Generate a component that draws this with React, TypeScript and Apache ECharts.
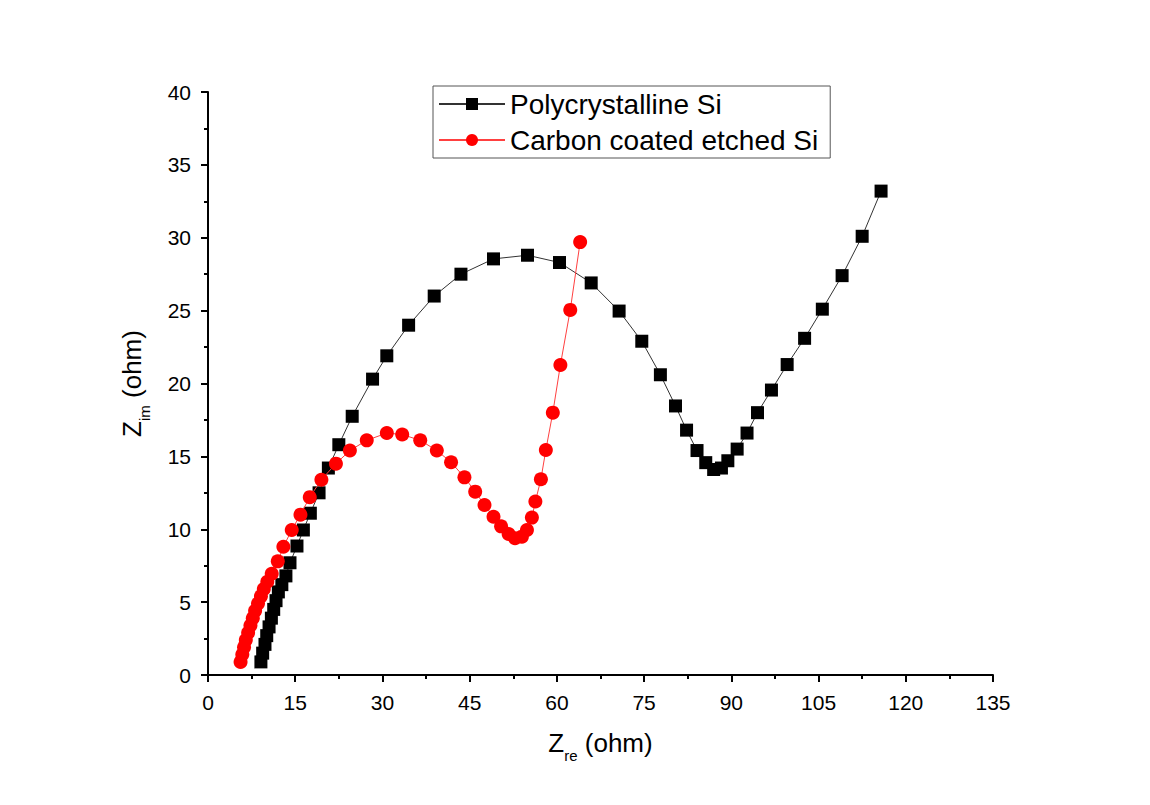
import React, { useEffect, useRef } from "react";
import * as echarts from "echarts";

const seriesNames = ["Polycrystalline Si", "Carbon coated etched Si"];

const polySi: number[][] = [
  [9.1, 0.9], [9.4, 1.5], [9.8, 2.1], [10.1, 2.7], [10.5, 3.3], [10.9, 3.9],
  [11.3, 4.5], [11.7, 5.1], [12.1, 5.7], [12.7, 6.2], [13.4, 6.8], [14.1, 7.7],
  [15.3, 8.85], [16.4, 9.95], [17.6, 11.1], [19.1, 12.5], [20.7, 14.2], [22.5, 15.8],
  [24.8, 17.75], [28.3, 20.3], [30.75, 21.9], [34.5, 24.0], [38.9, 26.0], [43.5, 27.5],
  [49.1, 28.55], [54.95, 28.8], [60.45, 28.3], [65.9, 26.9], [70.7, 24.97], [74.6, 22.9],
  [77.8, 20.6], [80.4, 18.46], [82.3, 16.8], [84.1, 15.4], [85.6, 14.57], [86.96, 14.1],
  [88.3, 14.2], [89.4, 14.7], [91.0, 15.5], [92.7, 16.6], [94.5, 18.0], [96.9, 19.55],
  [99.6, 21.3], [102.6, 23.1], [105.65, 25.1], [109.05, 27.4], [112.5, 30.1], [115.75, 33.2],
];

const carbonSi: number[][] = [
  [5.6, 0.9], [5.9, 1.4], [6.2, 1.9], [6.5, 2.4], [6.9, 2.9], [7.3, 3.4],
  [7.7, 3.9], [8.1, 4.4], [8.6, 4.9], [9.1, 5.4], [9.6, 5.9], [10.2, 6.4],
  [10.96, 6.95], [12.0, 7.8], [12.96, 8.8], [14.4, 9.95], [15.9, 11.0], [17.5, 12.2],
  [19.5, 13.4], [22.0, 14.5], [24.4, 15.4], [27.3, 16.1], [30.75, 16.6], [33.4, 16.5],
  [36.5, 16.1], [39.35, 15.4], [41.8, 14.6], [44.1, 13.56], [45.95, 12.58], [47.55, 11.66],
  [49.1, 10.86], [50.4, 10.2], [51.7, 9.67], [52.8, 9.38], [53.98, 9.49], [54.85, 9.95],
  [55.7, 10.8], [56.3, 11.9], [57.25, 13.43], [58.1, 15.44], [59.3, 18.0], [60.6, 21.27],
  [62.3, 25.05], [64.0, 29.7],
];

const xRange = { min: 0, max: 135, interval: 15 };
const yRange = { min: 0, max: 40, interval: 5 };

const FONT = "'Liberation Sans', Arial, sans-serif";

export default function App() {
  const ref = useRef<HTMLDivElement>(null);

  useEffect(() => {
    if (!ref.current) return;
    const chart = echarts.init(ref.current, undefined, { renderer: "svg" });
    const axisCommon = {
      axisLine: { show: true, lineStyle: { color: "#000", width: 2 } },
      axisTick: { show: true, inside: false, length: 7, lineStyle: { color: "#000", width: 2 } },
      minorTick: { show: true, splitNumber: 2, length: 4, lineStyle: { color: "#000", width: 2 } },
      splitLine: { show: false },
      axisLabel: { color: "#000", fontSize: 21, fontFamily: FONT },
    };
    const titleRich = {
      z: { fontSize: 26, fontFamily: FONT, color: "#000", lineHeight: 32, verticalAlign: "middle" },
      s: { fontSize: 15, fontFamily: FONT, color: "#000", lineHeight: 32, verticalAlign: "bottom", padding: [0, 0, -4, 0] },
      t: { fontSize: 26, fontFamily: FONT, color: "#000", lineHeight: 32, verticalAlign: "middle" },
    };
    chart.setOption({
      animation: false,
      backgroundColor: "#fff",
      grid: { left: 208, right: 157, top: 92, bottom: 130, containLabel: false },
      legend: {
        orient: "vertical",
        left: 433,
        top: 86,
        padding: [4, 12, 4, 5],
        itemGap: 8,
        itemWidth: 66,
        itemHeight: 15,
        borderColor: "#555",
        borderWidth: 1,
        textStyle: { fontSize: 28, fontFamily: FONT, color: "#000" },
        data: seriesNames,
      },
      xAxis: {
        type: "value",
        min: xRange.min,
        max: xRange.max,
        interval: xRange.interval,
        ...axisCommon,
        axisLabel: { ...axisCommon.axisLabel, margin: 17 },
        name: "{z|Z}{s|re}{t| (ohm)}",
        nameLocation: "middle",
        nameGap: 52,
        nameTextStyle: { rich: titleRich },
      },
      yAxis: {
        type: "value",
        min: yRange.min,
        max: yRange.max,
        interval: yRange.interval,
        ...axisCommon,
        axisLabel: { ...axisCommon.axisLabel, margin: 17 },
        name: "{z|Z}{s|im}{t| (ohm)}",
        nameLocation: "middle",
        nameRotate: 90,
        nameGap: 60,
        nameTextStyle: { rich: titleRich },
      },
      series: [
        {
          name: seriesNames[0],
          type: "line",
          data: polySi,
          symbol: "rect",
          symbolSize: 13,
          itemStyle: { color: "#000" },
          lineStyle: { color: "#333", width: 1 },
          z: 2,
        },
        {
          name: seriesNames[1],
          type: "line",
          data: carbonSi,
          symbol: "circle",
          symbolSize: 14,
          itemStyle: { color: "#ff0000" },
          lineStyle: { color: "#ff4040", width: 1 },
          z: 3,
        },
      ],
    });
    return () => chart.dispose();
  }, []);

  return (
    <div
      ref={ref}
      style={{ position: "fixed", left: 0, top: 0, width: 1150, height: 805, background: "#fff" }}
    />
  );
}
